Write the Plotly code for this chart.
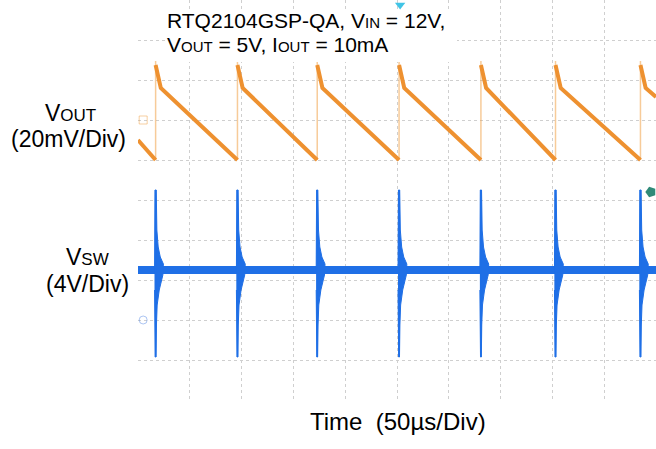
import plotly.graph_objects as go

# ---------------- data ----------------
# time of each switching pulse (µs), 50 µs/div, 10 divisions shown
pulse_t_us = [17, 96, 173, 252, 331, 403, 485]
t_end_us = 500

# VOUT ripple (mV, relative to the channel reference marker), 20 mV/div
vout_start_mv = -10.0     # at left edge
vout_peak_mv = 27.5       # top of each jump
vout_knee_mv = 16.0       # end of the fast drop after the jump
vout_valley_mv = -20.0    # bottom just before next pulse
vout_end_mv = 11.5        # at right edge
knee_delay_us = 5.0

# VSW (V, relative to channel ground marker), 4 V/div
vsw_base_v = 5.0
vsw_peak_v = 13.0
vsw_min_v = -3.7
# ringing envelope around each pulse (µs relative to pulse, V)
ring_left_dt_us = [-1.0, -1.0, -0.6]
ring_left_v = [5.0, 9.0, 13.0]
ring_up_dt_us = [0.6, 1.2, 2.5, 4.5, 7.5]
ring_up_v = [13.0, 9.0, 7.3, 6.3, 5.6]
ring_dn_dt_us = [7.0, 3.5, 1.5, 0.8, 0.4]
ring_dn_v = [4.5, 3.0, 1.5, -0.5, -3.7]
ring_back_dt_us = [-0.4, -0.8, -1.0]
ring_back_v = [-3.7, -0.5, 3.0]

ORANGE = "#EE9130"
ORANGE_LIGHT = "rgba(240,160,70,0.55)"
BLUE = "#1f6fe6"
FONT = "Liberation Sans, Arial, sans-serif"

# ---------------- build traces ----------------
# VOUT thick ramps
rx, ry = [0, pulse_t_us[0]], [vout_start_mv, vout_valley_mv]
for k, t0 in enumerate(pulse_t_us):
    rx.append(None); ry.append(None)
    nxt = pulse_t_us[k + 1] if k + 1 < len(pulse_t_us) else t_end_us
    end_v = vout_valley_mv if k + 1 < len(pulse_t_us) else vout_end_mv
    rx += [t0, t0 + knee_delay_us, nxt]
    ry += [vout_peak_mv, vout_knee_mv, end_v]

# VOUT thin rising edges
ex, ey = [], []
for t0 in pulse_t_us:
    ex += [t0, t0, None]
    ey += [vout_valley_mv, vout_peak_mv + 2, None]

# VSW spikes: envelope polygons
px_, py_ = [], []
for t0 in pulse_t_us:
    for dts, vs in ((ring_left_dt_us, ring_left_v), (ring_up_dt_us, ring_up_v),
                    (ring_dn_dt_us, ring_dn_v), (ring_back_dt_us, ring_back_v)):
        px_ += [t0 + d for d in dts]
        py_ += list(vs)
    px_.append(None); py_.append(None)

# VSW thin vertical lines through spikes
sx, sy = [], []
for t0 in pulse_t_us:
    sx += [t0, t0, None]
    sy += [vsw_min_v, vsw_peak_v, None]

fig = go.Figure()
fig.add_trace(go.Scatter(x=[0, t_end_us], y=[vsw_base_v, vsw_base_v], mode="lines",
                         line=dict(color=BLUE, width=8), hoverinfo="skip"))
fig.add_trace(go.Scatter(x=px_, y=py_, mode="lines", fill="toself", fillcolor=BLUE,
                         line=dict(color=BLUE, width=1), hoverinfo="skip"))
fig.add_trace(go.Scatter(x=sx, y=sy, mode="lines", line=dict(color=BLUE, width=1.5),
                         hoverinfo="skip"))
fig.add_trace(go.Scatter(x=ex, y=ey, mode="lines", yaxis="y2",
                         line=dict(color=ORANGE_LIGHT, width=1.5), hoverinfo="skip"))
fig.add_trace(go.Scatter(x=rx, y=ry, mode="lines", yaxis="y2",
                         line=dict(color=ORANGE, width=4), hoverinfo="skip"))

# scope indicators
fig.add_trace(go.Scatter(x=[253], y=[31.5], mode="markers", cliponaxis=False,
                         marker=dict(symbol="triangle-down", size=9, color="#40c4e6"),
                         hoverinfo="skip"))
fig.add_trace(go.Scatter(x=[495], y=[12.8], mode="markers", cliponaxis=False,
                         marker=dict(symbol="pentagon", angle=-90, size=11, color="#2f8a78"),
                         hoverinfo="skip"))
fig.add_trace(go.Scatter(x=[5], y=[0], mode="markers", cliponaxis=False,
                         marker=dict(symbol="circle-open", size=8, color="rgba(90,140,230,0.5)",
                                     line=dict(width=1)), hoverinfo="skip"))
fig.add_trace(go.Scatter(x=[5], y=[0], mode="markers", yaxis="y2", cliponaxis=False,
                         marker=dict(symbol="square-open", size=8, color="rgba(240,160,70,0.5)",
                                     line=dict(width=1)), hoverinfo="skip"))

# ---------------- layout ----------------
W, H = 656, 449
L, R, T, B = 138, 0, 0, 49
PW, PH = W - L - R, H - T - B


def pxx(x):
    return (x - L) / PW


def pxy(y):
    return 1 - (y - T) / PH


grid = dict(showgrid=True, gridcolor="#cfcfcf", griddash="dot", gridwidth=1,
            zeroline=False, showline=False, showticklabels=False, ticks="")

fig.update_layout(
    width=W, height=H,
    margin=dict(l=L, r=R, t=T, b=B),
    paper_bgcolor="white", plot_bgcolor="white",
    showlegend=False,
    xaxis=dict(range=[0, t_end_us], tickmode="array",
               tickvals=[50, 100, 150, 200, 250, 300, 350, 400, 450], **grid),
    yaxis=dict(range=[-8, 32], tickmode="array",
               tickvals=[-4, 0, 4, 8, 12, 16, 20, 24, 28], **grid),
    yaxis2=dict(range=[-140, 60], overlaying="y", visible=False),
    font=dict(family=FONT, color="black"),
)

# white box behind the condition text
fig.add_shape(type="rect", xref="paper", yref="paper",
              x0=pxx(165), x1=pxx(457), y0=pxy(62), y1=pxy(10),
              fillcolor="white", line=dict(width=0), layer="above")

sub_t = '<span style="font-size:15px">%s</span>'
sub_l = '<span style="font-size:17px">%s</span>'

annos = [
    ("RTQ2104GSP-QA, V" + sub_t % "IN" + " = 12V,", 165, 21, "left", 21),
    ("V" + sub_t % "OUT" + " = 5V, I" + sub_t % "OUT" + " = 10mA", 165, 44.5, "left", 21),
    ("V" + sub_l % "OUT", 70, 113, "center", 23),
    ("(20mV/Div)", 68, 139, "center", 23),
    ("V" + sub_l % "SW", 87, 257, "center", 23),
    ("(4V/Div)", 87, 283.5, "center", 23),
    ("Time\u00a0 (50\u00b5s/Div)", 398, 421.5, "center", 24),
]
for text, x, y, anchor, size in annos:
    fig.add_annotation(text=text, xref="paper", yref="paper", x=pxx(x), y=pxy(y),
                       xanchor=anchor, yanchor="middle", showarrow=False,
                       font=dict(size=size, family=FONT, color="black"))

fig.write_html("out.html")
